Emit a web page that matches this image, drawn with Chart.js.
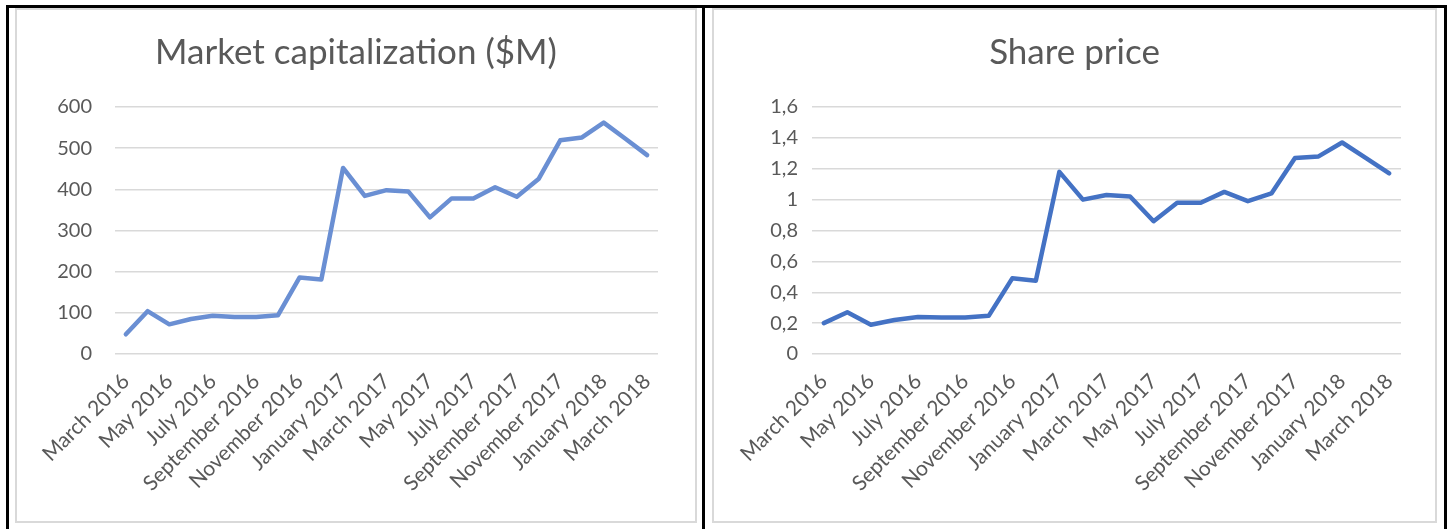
<!DOCTYPE html>
<html>
<head>
<meta charset="utf-8">
<script src="https://cdn.jsdelivr.net/npm/chart.js@4/dist/chart.umd.min.js"></script>
<style>
  body { margin: 0; background: #fff; }
  .bar { position: absolute; background: #000; }
  .box { position: absolute; box-sizing: border-box; border: 2px solid #d9d9d9; background: #fff; }
  canvas { position: absolute; }
</style>
</head>
<body>
<div class="bar" style="left:6px;top:5px;width:1441px;height:3px"></div>
<div class="bar" style="left:6px;top:5px;width:3px;height:524px"></div>
<div class="bar" style="left:702px;top:5px;width:3px;height:524px"></div>
<div class="bar" style="left:1444px;top:5px;width:3px;height:524px"></div>
<div class="box" style="left:15px;top:8px;width:682px;height:515px"></div>
<div class="box" style="left:712px;top:8px;width:725px;height:515px"></div>
<canvas id="cap" width="678" height="511" style="left:17px;top:10px"></canvas>
<canvas id="price" width="721" height="511" style="left:714px;top:10px"></canvas>
<script>
var months = ['March 2016', 'April 2016', 'May 2016', 'June 2016', 'July 2016', 'August 2016',
  'September 2016', 'October 2016', 'November 2016', 'December 2016', 'January 2017', 'February 2017',
  'March 2017', 'April 2017', 'May 2017', 'June 2017', 'July 2017', 'August 2017',
  'September 2017', 'October 2017', 'November 2017', 'December 2017', 'January 2018', 'February 2018',
  'March 2018'];
var marketCap = [48, 104, 72, 85, 93, 90, 90, 94, 186, 181, 452, 384, 398, 395, 332, 378, 378, 405, 382, 425, 519, 526, 562, 523, 483];
var sharePrice = [0.20, 0.27, 0.19, 0.22, 0.24, 0.237, 0.237, 0.247, 0.49, 0.474, 1.18, 1.00, 1.03, 1.02, 0.86, 0.98, 0.98, 1.05, 0.99, 1.04, 1.27, 1.28, 1.37, 1.27, 1.17];

var textColor = '#595959';
var font = 'Lato';

// side = equal left/right layout padding so the title stays centred in the box
function makeChart(id, title, values, color, yMax, yStep, yFmt, yPad, side, yWidth) {
  return new Chart(document.getElementById(id), {
    type: 'line',
    data: {
      labels: months,
      datasets: [{
        data: values,
        borderColor: color,
        borderWidth: 4.5,
        borderCapStyle: 'round',
        borderJoinStyle: 'round',
        pointRadius: 0,
        tension: 0,
        fill: false
      }]
    },
    options: {
      responsive: false,
      animation: false,
      devicePixelRatio: 1,
      layout: { padding: { top: 0, left: side, right: side, bottom: 0 } },
      plugins: {
        legend: { display: false },
        tooltip: { enabled: false },
        title: {
          display: true,
          text: title,
          color: textColor,
          font: { family: font, size: 35, weight: 'normal', lineHeight: 1.2 },
          padding: { top: 22, bottom: 33 }
        }
      },
      scales: {
        x: {
          offset: true,
          grid: { display: false },
          border: { display: false },
          ticks: {
            autoSkip: false,
            minRotation: 45,
            maxRotation: 45,
            padding: 7,
            color: textColor,
            font: { family: font, size: 21 },
            callback: function(v, i) { return i % 2 === 0 ? months[i] : ''; }
          },
          afterFit: function(s) { s.height = 167; }
        },
        y: {
          min: 0,
          max: yMax,
          border: { display: false },
          grid: { color: '#d9d9d9', lineWidth: 1.5, drawTicks: false },
          ticks: {
            stepSize: yStep,
            padding: yPad,
            color: textColor,
            font: { family: font, size: 20 },
            callback: yFmt
          },
          afterFit: function(s) { s.width = yWidth; }
        }
      }
    }
  });
}

makeChart('cap', 'Market capitalization ($M)', marketCap, 'rgb(106,143,211)', 600, 100,
  function(v) { return String(v); }, 23, 37, 61);
makeChart('price', 'Share price', sharePrice, '#4472c4', 1.6, 0.2,
  function(v) { return String(Math.round(v * 10) / 10).replace('.', ','); }, 14, 34, 64);
</script>
</body>
</html>
